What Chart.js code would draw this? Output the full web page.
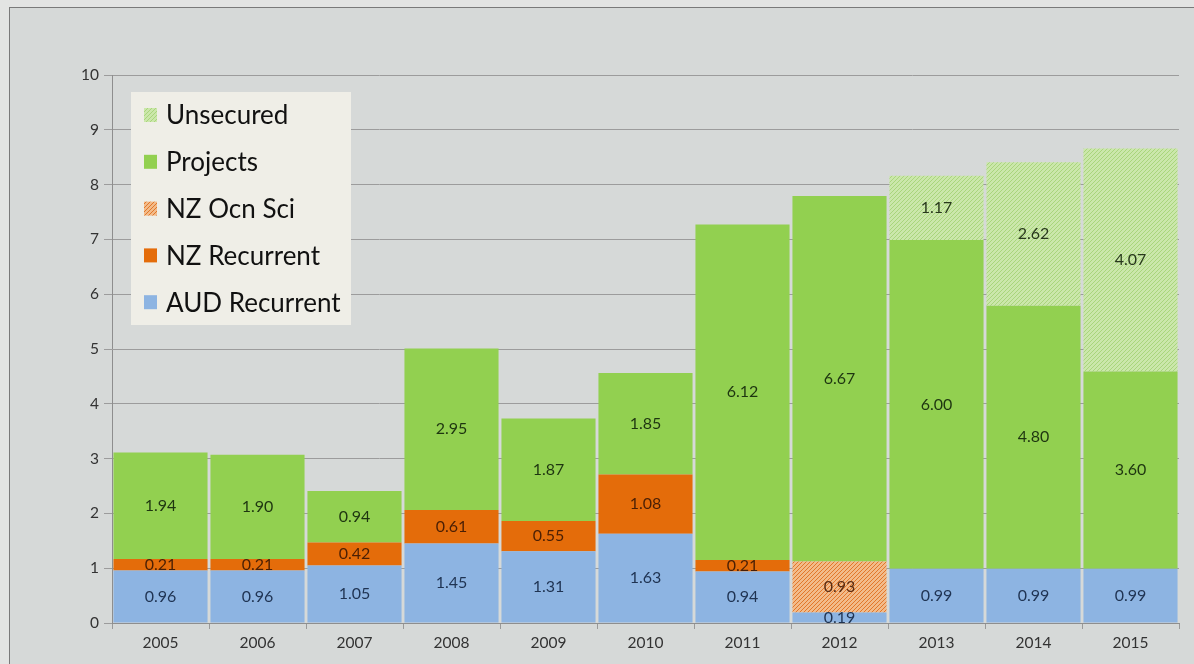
<!DOCTYPE html>
<html><head><meta charset="utf-8">
<script src="https://cdn.jsdelivr.net/npm/chart.js@4/dist/chart.umd.min.js"></script>
<style>
html,body{margin:0;padding:0;background:#e3e4e3;overflow:hidden;}
#wrap{position:relative;width:1194px;height:664px;}
#frame{position:absolute;left:9px;top:7px;width:1200px;height:680px;border:1px solid #7a7a7a;background:#d6d9d8;}
canvas{position:absolute;left:0;top:0;}
</style></head><body>
<div id="wrap"><div id="frame"></div><canvas id="c" width="1194" height="664"></canvas></div>
<script>
const years = ['2005','2006','2007','2008','2009','2010','2011','2012','2013','2014','2015'];
const audRecurrent = [0.96,0.96,1.05,1.45,1.31,1.63,0.94,0.19,0.99,0.99,0.99];
const nzRecurrent  = [0.21,0.21,0.42,0.61,0.55,1.08,0.21,0,0,0,0];
const nzOcnSci     = [0,0,0,0,0,0,0,0.93,0,0,0];
const projects     = [1.94,1.90,0.94,2.95,1.87,1.85,6.12,6.67,6.00,4.80,3.60];
const unsecured    = [0,0,0,0,0,0,0,0,1.17,2.62,4.07];
const seriesNames  = ['AUD Recurrent','NZ Recurrent','NZ Ocn Sci','Projects','Unsecured'];

function hatch(base, line){
  const n = 4;
  const c = document.createElement('canvas'); c.width = n; c.height = n;
  const g = c.getContext('2d');
  g.fillStyle = base; g.fillRect(0,0,n,n);
  g.strokeStyle = line; g.lineWidth = 1;
  g.beginPath();
  g.moveTo(-1,n+1); g.lineTo(n+1,-1);
  g.moveTo(-1,1); g.lineTo(1,-1);
  g.moveTo(n-1,n+1); g.lineTo(n+1,n-1);
  g.stroke();
  return document.getElementById('c').getContext('2d').createPattern(c,'repeat');
}
const unsecPat = hatch('#cbe7ab','#a9d57c');
const ocnPat = hatch('#f2bb8a','#e2772a');

const colors = ['#8db4e2','#e46c0a',ocnPat,'#92d050',unsecPat];
const labelColors = ['#1f3352','#4a1f05','#5a2c12','#1e3510','#28381c'];
const values = [audRecurrent,nzRecurrent,nzOcnSci,projects,unsecured];
const FONT = 'Lato, "Open Sans", sans-serif';

const labelPlugin = {
  id:'segLabels',
  afterDatasetsDraw(chart){
    const ctx = chart.ctx;
    ctx.save();
    ctx.font = '16px ' + FONT;
    ctx.textAlign = 'center'; ctx.textBaseline = 'middle';
    chart.data.datasets.forEach((ds,i)=>{
      const meta = chart.getDatasetMeta(i);
      meta.data.forEach((bar,j)=>{
        const v = ds.data[j];
        if(!v) return;
        const p = bar.getProps(['x','y','base'],true);
        ctx.fillStyle = labelColors[i];
        ctx.fillText(v.toFixed(2), p.x, (p.y+p.base)/2);
      });
    });
    ctx.restore();
  }
};

const legendPlugin = {
  id:'boxLegend',
  afterDraw(chart){
    const ctx = chart.ctx;
    ctx.save();
    ctx.fillStyle = '#efeee7';
    ctx.fillRect(131,92,220,233);
    ctx.font = '26px ' + FONT;
    ctx.textBaseline = 'middle'; ctx.textAlign = 'left';
    const ds = chart.data.datasets;
    for(let k=0;k<ds.length;k++){
      const d = ds[ds.length-1-k];
      const cy = 115 + k*46.8;
      ctx.fillStyle = d.backgroundColor;
      ctx.fillRect(144, cy-7, 13, 14);
      ctx.fillStyle = '#111';
      ctx.fillText(d.label, 166, cy+1);
    }
    ctx.restore();
  }
};

new Chart(document.getElementById('c'),{
  type:'bar',
  data:{
    labels: years,
    datasets: values.map((arr,i)=>({
      label: seriesNames[i],
      data: arr,
      backgroundColor: colors[i],
      borderWidth: 0,
      barPercentage: 0.97,
      categoryPercentage: 1.0
    }))
  },
  options:{
    responsive:false,
    animation:false,
    layout:{padding:{top:75,right:15,left:0,bottom:0}},
    plugins:{legend:{display:false},tooltip:{enabled:false}},
    scales:{
      x:{
        stacked:true,
        grid:{drawOnChartArea:false,color:'#9a9a9a',tickLength:6,offset:true},
        border:{color:'#8e8e8e'},
        ticks:{font:{size:15.5,family:FONT},color:'#333',padding:5},
        afterFit(s){ s.height = 41; }
      },
      y:{
        stacked:true,
        min:0,max:10,
        ticks:{stepSize:1,font:{size:15.5,family:FONT},color:'#333',padding:5},
        grid:{color:'#9c9c9c',tickLength:8},
        border:{color:'#8e8e8e'},
        afterFit(s){ s.width = 112; }
      }
    }
  },
  plugins:[labelPlugin,legendPlugin]
});
</script>
</body></html>
